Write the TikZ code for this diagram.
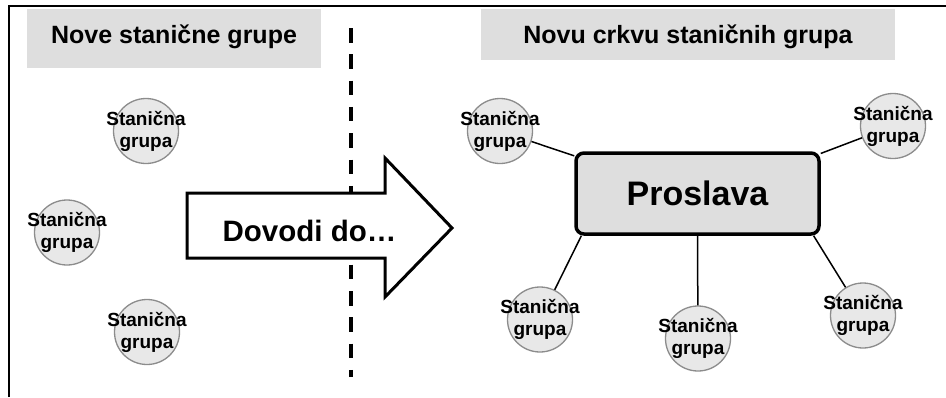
\documentclass[tikz,border=0pt]{standalone}
\usepackage{fontspec}
\setmainfont{Liberation Sans}
\usetikzlibrary{positioning}

\begin{document}
\begin{tikzpicture}[x=1pt,y=-1pt,
    grp/.style={circle,draw=black!45,fill=black!9,line width=1.3pt,
      minimum size=65pt,inner sep=0pt,
      label={[align=center,font=\fontsize{19}{22}\selectfont\bfseries]center:Stanična\\grupa}},
    link/.style={line width=1.5pt},
    heading/.style={font=\fontsize{25}{30}\selectfont\bfseries,anchor=base}]
  \useasboundingbox (0,0) rectangle (946,397);
  % frame
  \draw[line width=2pt] (9,397) -- (9,6) -- (946,6);
  % titles
  \fill[black!13] (27,9) rectangle (321,68);
  \fill[black!13] (481,9) rectangle (895,60);
  \node[heading] (before) at (174,43) {Nove stanične grupe};
  \node[heading] (after) at (688,43) {Novu crkvu staničnih grupa};
  % divider
  \draw[line width=4pt,dash pattern=on 14.5pt off 11.8pt] (350.5,28) -- (350.5,377);
  % arrow
  \draw[line width=3pt,fill=white,line join=miter]
    (187,193) -- (385,193) -- (385,158) -- (452,228) -- (385,297)
    -- (385,258) -- (187,258) -- cycle;
  \node[font=\fontsize{29.5}{34}\selectfont\bfseries,anchor=base] (lead) at (309.5,241) {Dovodi do…};
  % left side
  \node[grp] (sg1) at (146,131) {};
  \node[grp] (sg2) at (67,232.5) {};
  \node[grp] (sg3) at (147,332) {};
  % right side
  \node[draw,line width=3.5pt,rounded corners=8pt,fill=black!13,
    minimum width=243pt,minimum height=81pt,
    font=\fontsize{34}{40}\selectfont\bfseries] (pro) at (697.5,193.5) {Proslava};
  \node[grp] (cg1) at (500,131) {};
  \node[grp] (cg2) at (893,126) {};
  \node[grp] (cg3) at (540,319.5) {};
  \node[grp] (cg4) at (698,338.5) {};
  \node[grp] (cg5) at (863,315.5) {};
  \draw[link] (cg1) -- (pro.163);
  \draw[link] (cg2) -- (pro.18);
  \draw[link] (cg3) -- (pro.200);
  \draw[link] (cg4) -- (pro.south);
  \draw[link] (cg5) -- (pro.340);
\end{tikzpicture}
\end{document}
